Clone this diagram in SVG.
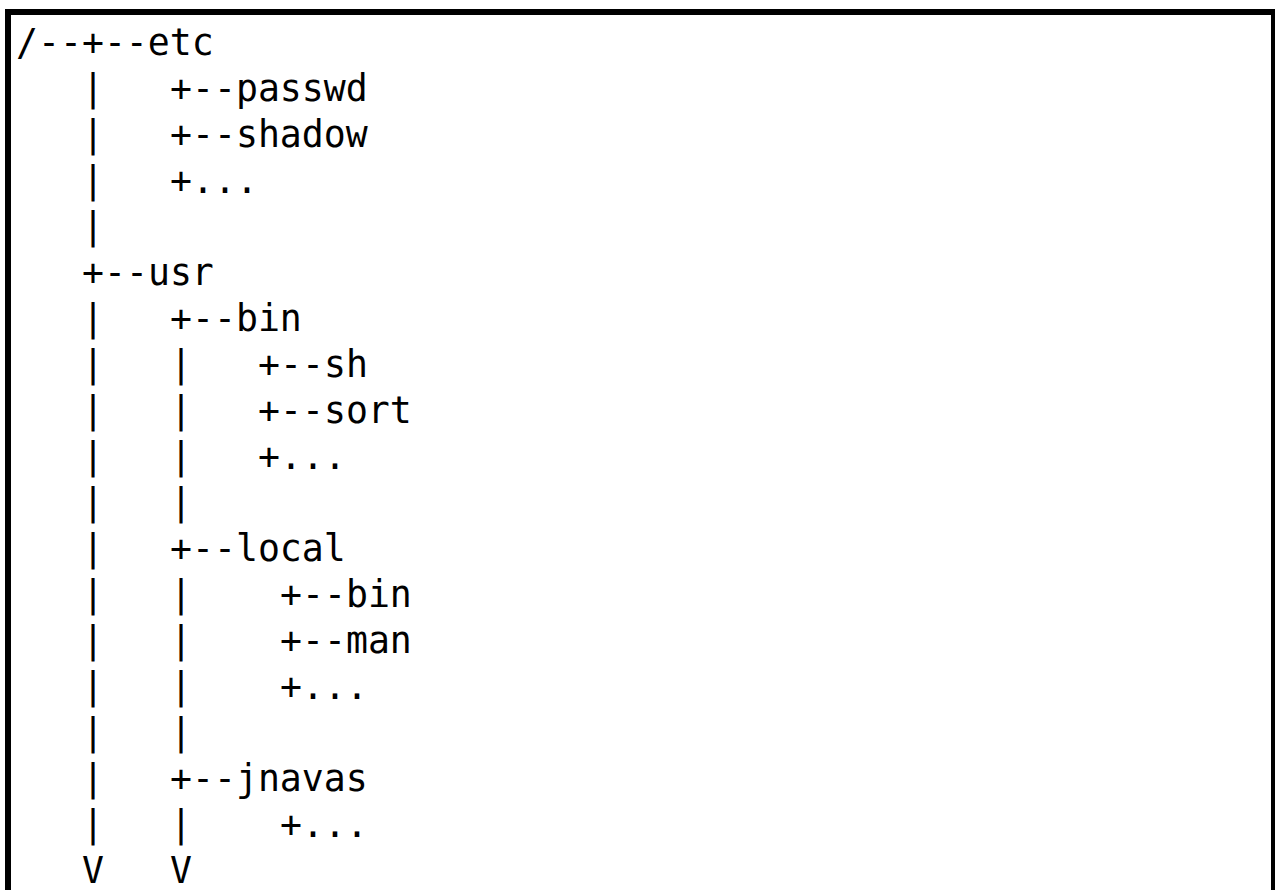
<svg xmlns="http://www.w3.org/2000/svg" width="1275" height="890" viewBox="0 0 1275 890">
  <style>
    .frame { fill: #ffffff; stroke: #000000; stroke-width: 6; }
    .tree { font-family: "DejaVu Sans Mono", "Liberation Mono", monospace; font-size: 36.5px; fill: #000000; }
  </style>
  <rect x="0" y="0" width="1275" height="890" fill="#ffffff"/>
  <rect class="frame" x="8" y="12" width="1266" height="900"/>
  <!-- directory tree as fixed-width text; columns are 22px apart starting at x=16
       (col 0 = 16, col 3 = 82, col 7 = 170, col 11 = 258, col 12 = 280) -->
  <g id="tree" class="tree">
    <g id="row-etc"><text x="16" y="55">/--+--etc</text></g>
    <g id="row-passwd"><text x="82" y="101">|</text><text x="170" y="101">+--passwd</text></g>
    <g id="row-shadow"><text x="82" y="147">|</text><text x="170" y="147">+--shadow</text></g>
    <g id="row-etc-more"><text x="82" y="193">|</text><text x="170" y="193">+...</text></g>
    <g id="row-gap1"><text x="82" y="239">|</text></g>
    <g id="row-usr"><text x="82" y="285">+--usr</text></g>
    <g id="row-bin"><text x="82" y="331">|</text><text x="170" y="331">+--bin</text></g>
    <g id="row-sh"><text x="82" y="377">|</text><text x="170" y="377">|</text><text x="258" y="377">+--sh</text></g>
    <g id="row-sort"><text x="82" y="423">|</text><text x="170" y="423">|</text><text x="258" y="423">+--sort</text></g>
    <g id="row-bin-more"><text x="82" y="469">|</text><text x="170" y="469">|</text><text x="258" y="469">+...</text></g>
    <g id="row-gap2"><text x="82" y="515">|</text><text x="170" y="515">|</text></g>
    <g id="row-local"><text x="82" y="561">|</text><text x="170" y="561">+--local</text></g>
    <g id="row-local-bin"><text x="82" y="607">|</text><text x="170" y="607">|</text><text x="280" y="607">+--bin</text></g>
    <g id="row-man"><text x="82" y="653">|</text><text x="170" y="653">|</text><text x="280" y="653">+--man</text></g>
    <g id="row-local-more"><text x="82" y="699">|</text><text x="170" y="699">|</text><text x="280" y="699">+...</text></g>
    <g id="row-gap3"><text x="82" y="745">|</text><text x="170" y="745">|</text></g>
    <g id="row-jnavas"><text x="82" y="791">|</text><text x="170" y="791">+--jnavas</text></g>
    <g id="row-jnavas-more"><text x="82" y="837">|</text><text x="170" y="837">|</text><text x="280" y="837">+...</text></g>
    <g id="row-arrows"><text x="82" y="883">V</text><text x="170" y="883">V</text></g>
  </g>
</svg>
